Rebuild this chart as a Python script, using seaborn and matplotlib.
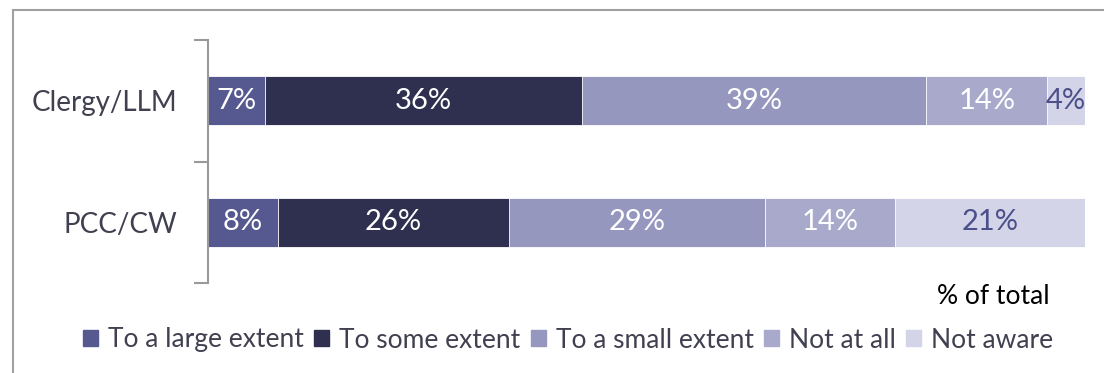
import numpy as np
import pandas as pd
import seaborn as sns
import matplotlib.pyplot as plt
from matplotlib.patches import Rectangle

# data (% of total)
groups = ['Clergy/LLM', 'PCC/CW']
responses = ['To a large extent', 'To some extent', 'To a small extent', 'Not at all', 'Not aware']
clergy_vals = [6.5, 36.1, 39.3, 13.8, 4.3]
pcc_vals = [8.0, 26.3, 29.2, 14.8, 21.7]
clergy_labels = ['7%', '36%', '39%', '14%', '4%']
pcc_labels = ['8%', '26%', '29%', '14%', '21%']

colors = ['#555990', '#2f3050', '#9597bf', '#a9aacb', '#d3d4e7']
label_colors = ['white', 'white', 'white', 'white', '#4b4f8a']

sns.set_style('white')
plt.rcParams['font.family'] = ['Lato', 'DejaVu Sans']
text_col = '#404050'

df = pd.DataFrame({'group': np.repeat(groups, len(responses)),
                   'response': responses * 2,
                   'value': clergy_vals + pcc_vals})
df['cum'] = df.groupby('group')['value'].cumsum()
df['start'] = df['cum'] - df['value']

fig = plt.figure(figsize=(11.04, 3.73), dpi=100)
ax = fig.add_axes([208 / 1104, 1 - 283 / 373, (1085 - 208) / 1104, (283 - 40) / 373])

# stacked bars: draw cumulative totals from the largest down
for i in reversed(range(len(responses))):
    sub = df[df['response'] == responses[i]]
    sns.barplot(data=sub, x='cum', y='group', order=groups, color=colors[i],
                orient='h', width=0.4, ax=ax, saturation=1,
                edgecolor='white', linewidth=0.6)

all_labels = {'Clergy/LLM': clergy_labels, 'PCC/CW': pcc_labels}
for _, row in df.iterrows():
    yi = groups.index(row['group'])
    ri = responses.index(row['response'])
    ax.text(row['start'] + row['value'] / 2, yi, all_labels[row['group']][ri],
            ha='center', va='center', fontsize=21, color=label_colors[ri])

ax.set_xlim(0, 100)
ax.set_ylim(1.5, -0.5)
ax.set_xlabel('')
ax.set_ylabel('')
ax.set_xticks([])
ax.set_yticks([-0.5, 0.5, 1.5])
ax.set_yticklabels([])
ax.set_yticks([0, 1], minor=True)
ax.set_yticklabels(groups, minor=True, fontsize=20, color=text_col)
ax.tick_params(axis='y', which='major', direction='out', length=10, width=1.5,
               color='#999999', left=True)
ax.tick_params(axis='y', which='minor', length=0, pad=22)
for s in ['top', 'right', 'bottom']:
    ax.spines[s].set_visible(False)
ax.spines['left'].set_color('#999999')
ax.spines['left'].set_linewidth(1.5)

handles = [plt.Rectangle((0, 0), 1, 1, color=c) for c in colors]
leg = fig.legend(handles, responses, loc='center', bbox_to_anchor=(568 / 1104, 1 - 340 / 373),
                 ncol=5, frameon=False, fontsize=19, handlelength=0.57, handleheight=0.57,
                 handletextpad=0.38, columnspacing=0.38, labelcolor=text_col,
                 borderpad=0, borderaxespad=0)

fig.text(1050 / 1104, 1 - 297 / 373, '% of total', ha='right', va='center',
         fontsize=19, color='black')

# outer chart frame (partly cut off in the reference)
fig.patches.append(Rectangle((13 / 1104, -0.1), 1.2, 1 - 10 / 373 + 0.1,
                             transform=fig.transFigure, fill=False,
                             edgecolor='#a0a0a0', linewidth=1.5))

plt.savefig('out.png', dpi=100)
plt.close()
